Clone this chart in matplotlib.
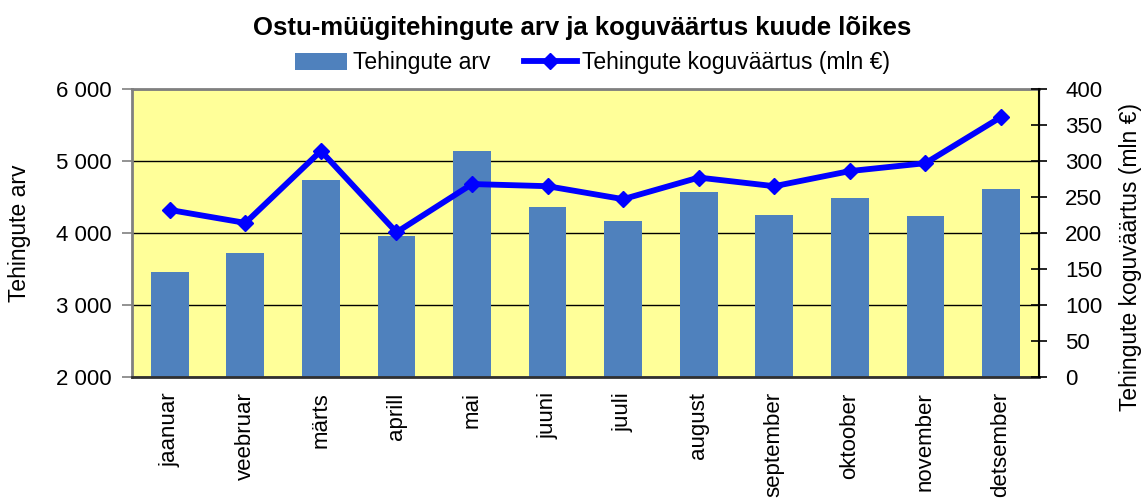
import matplotlib.pyplot as plt
import numpy as np
from matplotlib.ticker import FuncFormatter, MultipleLocator

# Data
months = ["jaanuar", "veebruar", "märts", "aprill", "mai", "juuni",
          "juuli", "august", "september", "oktoober", "november", "detsember"]
tehingute_arv = [3460, 3720, 4735, 3965, 5140, 4360,
                 4160, 4565, 4250, 4480, 4230, 4605]
koguvaartus = [232, 214, 314, 201, 268, 265,
               247, 277, 265, 286, 297, 361]

font = ['Liberation Sans', 'DejaVu Sans']
plt.rcParams['font.family'] = font

fig = plt.figure(figsize=(11.44, 5.04), dpi=100)
ax = fig.add_axes([0.1154, 0.252, 0.7926, 0.5714])
ax.set_facecolor('#FFFF99')
x = np.arange(len(months))

# Bars on the left axis
bars = ax.bar(x, tehingute_arv, width=0.5, color='#4F81BD', zorder=2,
              label='Tehingute arv')
ax.set_xlim(-0.5, len(months) - 0.5)
ax.set_ylim(2000, 6000)
ax.yaxis.set_major_locator(MultipleLocator(1000))
ax.yaxis.set_major_formatter(FuncFormatter(lambda v, p: f"{int(v):,}".replace(",", " ")))
ax.grid(axis='y', color='black', linewidth=1)
ax.set_axisbelow(True)
ax.tick_params(axis='y', direction='out', length=7, width=1.2, color='#808080',
               labelsize=16, pad=8)
ax.set_xticks(x)
ax.set_xticklabels(months, rotation=90, fontsize=16)
ax.tick_params(axis='x', length=0, pad=11)
ax.set_ylabel('Tehingute arv', fontsize=16.5)
ax.yaxis.set_label_coords(-0.111, 0.5)

for side in ['left', 'top']:
    ax.spines[side].set_color('#808080')
    ax.spines[side].set_linewidth(2)
ax.spines['bottom'].set_color('#303030')
ax.spines['bottom'].set_linewidth(2)

# Line on the right axis
ax2 = ax.twinx()
line, = ax2.plot(x, koguvaartus, color='#0000FF', linewidth=4.2, marker='D',
                 markersize=8, zorder=3, label='Tehingute koguväärtus (mln €)')
ax2.set_ylim(0, 400)
ax2.yaxis.set_major_locator(MultipleLocator(50))
ax2.tick_params(axis='y', direction='inout', length=12, width=1.2, color='black',
                labelsize=16, pad=13)
ax2.spines['right'].set_color('black')
ax2.spines['right'].set_linewidth(1.5)
for side in ['left', 'top', 'bottom']:
    ax2.spines[side].set_visible(False)
ax2.set_ylabel('Tehingute koguväärtus (mln €)', fontsize=16.5)
ax2.yaxis.set_label_coords(1.089, 0.415)

# Title and legend
fig.text(0.509, 0.944, 'Ostu-müügitehingute arv ja koguväärtus kuude lõikes',
         ha='center', va='center', fontsize=18.5, fontweight='bold')
fig.legend([bars, line], ['Tehingute arv', 'Tehingute koguväärtus (mln €)'],
           loc='center', bbox_to_anchor=(0.518, 0.875), ncol=2, frameon=False,
           prop={'size': 16.5}, handlelength=2.3,
           columnspacing=1.45, handletextpad=0.25)

plt.savefig('out.png', dpi=100)
